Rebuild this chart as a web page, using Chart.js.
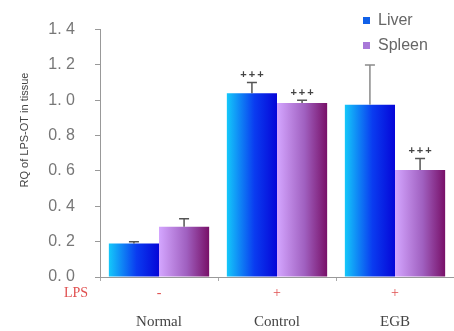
<!DOCTYPE html>
<html>
<head>
<meta charset="utf-8">
<script src="https://cdn.jsdelivr.net/npm/chart.js@4"></script>
<style>
  html, body { margin: 0; padding: 0; background: #fff; }
  #wrap { width: 454px; height: 331px; }
</style>
</head>
<body>
<div id="wrap"><canvas id="myChart" width="454" height="331"></canvas></div>
<script>
const groups = ['Normal', 'Control', 'EGB'];
const lpsSigns = ['-', '+', '+'];
const liver = [0.19, 1.04, 0.975];
const spleen = [0.285, 0.985, 0.605];
const liverErrTop = [0.20, 1.10, 1.20];
const spleenErrTop = [0.33, 1.00, 0.67];
const liverStars = ['', '+++', ''];
const spleenStars = ['', '+++', '+++'];
const yTicks = [0, 0.2, 0.4, 0.6, 0.8, 1.0, 1.2, 1.4];

const gradStops = [
  ['#14c8fa', '#0a3cf0', '#0606d8'],
  ['#d4a6ff', '#a060c0', '#781068']
];
const errTops = [liverErrTop, spleenErrTop];
const stars = [liverStars, spleenStars];

// bar gradients + error bars, stars, lps row, legend, y title
const extras = {
  id: 'extras',
  beforeDatasetsDraw(chart) {
    const c = chart.ctx;
    chart.data.datasets.forEach((ds, i) => {
      chart.getDatasetMeta(i).data.forEach(bar => {
        const g = c.createLinearGradient(bar.x - bar.width / 2, 0, bar.x + bar.width / 2, 0);
        g.addColorStop(0, gradStops[i][0]);
        g.addColorStop(0.55, gradStops[i][1]);
        g.addColorStop(1, gradStops[i][2]);
        bar.options = Object.assign({}, bar.options, { backgroundColor: g });
      });
    });
  },
  afterDatasetsDraw(chart) {
    const c = chart.ctx;
    const y = chart.scales.y, x = chart.scales.x;
    c.save();
    chart.data.datasets.forEach((ds, i) => {
      chart.getDatasetMeta(i).data.forEach((bar, j) => {
        const top = y.getPixelForValue(errTops[i][j]);
        c.strokeStyle = (i === 0 && j === 2) ? '#8a8a8a' : '#555';
        c.lineWidth = 1.5;
        c.beginPath();
        c.moveTo(bar.x, bar.y);
        c.lineTo(bar.x, top);
        c.moveTo(bar.x - 5, top);
        c.lineTo(bar.x + 5, top);
        c.stroke();
        if (stars[i][j]) {
          c.fillStyle = '#444';
          c.font = 'bold 11px Arial';
          c.letterSpacing = '2px';
          c.textAlign = 'center';
          c.textBaseline = 'bottom';
          c.fillText(stars[i][j], bar.x + 1, top - 2);
          c.letterSpacing = '0px';
        }
      });
    });

    // LPS row
    c.fillStyle = '#e05050';
    c.font = '14px "Times New Roman", "Liberation Serif", serif';
    c.textAlign = 'center';
    c.textBaseline = 'middle';
    c.fillText('LPS', 76, 293);
    lpsSigns.forEach((s, j) => {
      c.fillText(s, x.getPixelForValue(j), 293);
    });

    // y title
    c.save();
    c.translate(25, 130);
    c.rotate(-Math.PI / 2);
    c.fillStyle = '#444';
    c.font = '11px Arial';
    c.fillText('RQ of LPS-OT in tissue', 0, 0);
    c.restore();

    // legend
    c.font = '16px Arial';
    c.textAlign = 'left';
    const legCols = ['#1060e8', '#a878d8'];
    chart.data.datasets.forEach((ds, i) => {
      const ly = 20 + i * 25;
      c.fillStyle = legCols[i];
      c.fillRect(363, ly - 3, 7, 7);
      c.fillStyle = '#666';
      c.fillText(ds.label, 378, ly + 1);
    });
    c.restore();
  }
};

new Chart(document.getElementById('myChart'), {
  type: 'bar',
  data: {
    labels: groups,
    datasets: [
      { label: 'Liver', data: liver, backgroundColor: '#0a60f0', borderWidth: 0 },
      { label: 'Spleen', data: spleen, backgroundColor: '#a060c0', borderWidth: 0 }
    ]
  },
  options: {
    responsive: false,
    animation: false,
    layout: { padding: { top: 27, right: 0, left: 0, bottom: 0 } },
    datasets: { bar: { categoryPercentage: 0.85, barPercentage: 1.0 } },
    plugins: { legend: { display: false }, tooltip: { enabled: false } },
    scales: {
      x: {
        afterFit(s) { s.height = 54; },
        grid: { drawOnChartArea: false, tickLength: 4, color: '#aaa' },
        border: { color: '#999' },
        ticks: {
          padding: 32,
          color: '#444',
          font: { family: '"Times New Roman", "Liberation Serif", serif', size: 15 }
        }
      },
      y: {
        min: 0,
        max: 1.4,
        afterFit(s) { s.width = 100; },
        afterBuildTicks(s) { s.ticks = yTicks.map(v => ({ value: v })); },
        grid: { drawOnChartArea: false, tickLength: 5, color: '#999' },
        border: { color: '#999' },
        ticks: {
          padding: 20,
          color: '#777',
          font: { family: 'Arial', size: 16 },
          callback: v => v.toFixed(1).replace('.', '. ')
        }
      }
    }
  },
  plugins: [extras]
});
</script>
</body>
</html>
